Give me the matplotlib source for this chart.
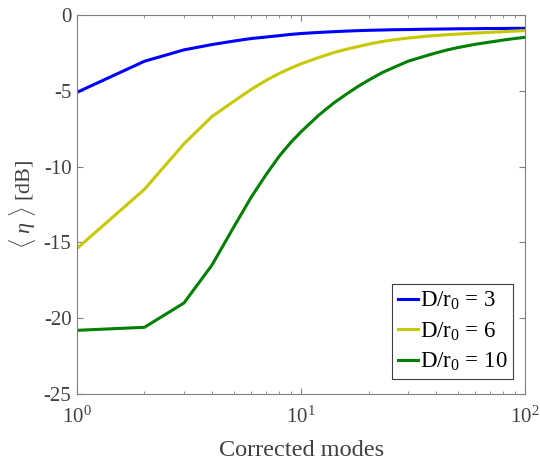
import matplotlib
matplotlib.use("Agg")
import matplotlib.pyplot as plt

# Data
modes = [1, 2, 3, 4, 5, 6, 7, 8, 9, 10, 12, 14, 16, 18, 20, 23, 26, 30,
         35, 40, 45, 50, 60, 70, 80, 90, 100]
eta_d3 = [-5.1, -3.05, -2.3, -1.95, -1.72, -1.55, -1.45, -1.36, -1.28, -1.22,
          -1.15, -1.1, -1.06, -1.03, -1.01, -0.99, -0.97, -0.96, -0.94, -0.93,
          -0.92, -0.91, -0.9, -0.89, -0.89, -0.88, -0.88]
eta_d6 = [-15.4, -11.5, -8.5, -6.7, -5.7, -4.9, -4.3, -3.85, -3.5, -3.22,
          -2.8, -2.48, -2.25, -2.08, -1.92, -1.75, -1.63, -1.52, -1.42, -1.35,
          -1.3, -1.26, -1.19, -1.14, -1.1, -1.06, -1.03]
eta_d10 = [-20.8, -20.6, -19.0, -16.5, -14.0, -12.0, -10.5, -9.3, -8.4, -7.7,
           -6.6, -5.8, -5.2, -4.7, -4.3, -3.8, -3.45, -3.05, -2.75, -2.5,
           -2.3, -2.15, -1.93, -1.78, -1.65, -1.55, -1.47]
labels = ["D/r$_0$ = 3", "D/r$_0$ = 6", "D/r$_0$ = 10"]
colors = ["#0000ff", "#c8c800", "#008000"]

plt.rcParams["font.family"] = ["Liberation Serif", "DejaVu Serif"]
plt.rcParams["mathtext.fontset"] = "custom"
plt.rcParams["mathtext.rm"] = "Liberation Serif"
plt.rcParams["mathtext.it"] = "Liberation Serif:italic"

text_c = "#404040"
axis_c = "#808080"

fig = plt.figure(figsize=(5.4, 4.66), dpi=100)
ax = fig.add_axes([0.1426, 0.1545, 0.830, 0.8133])

for y, lab, c in zip([eta_d3, eta_d6, eta_d10], labels, colors):
    ax.plot(modes, y, color=c, lw=2.2, label=lab)

ax.set_xscale("log")
ax.set_xlim(1, 100)
ax.set_ylim(-25, 0)
ax.set_yticks([-25, -20, -15, -10, -5, 0])
ax.set_yticklabels(["-25", "-20", "-15", "-10", "-5", "0"])

ax.set_xlabel("Corrected modes", fontsize=17.5, color=text_c, labelpad=9)
ax.set_ylabel(r"$\langle\ \eta\ \rangle$ [dB]", fontsize=16, color=text_c)

for s in ax.spines.values():
    s.set_color(axis_c)
    s.set_linewidth(0.8)
ax.tick_params(which="both", direction="in", top=True, right=True,
               color=axis_c, labelcolor=text_c, labelsize=15)
ax.tick_params(which="major", length=4, pad=4)
ax.tick_params(which="minor", length=2.5)
ax.tick_params(axis="x", which="both", pad=9)

leg = ax.legend(loc="lower right", fontsize=16.5, handlelength=0.85,
                handletextpad=0.1, borderpad=0.25, labelspacing=0.35,
                borderaxespad=0, fancybox=False, framealpha=1,
                bbox_to_anchor=(0.973, 0.04))
leg.get_frame().set_edgecolor("#404040")
leg.get_frame().set_linewidth(0.8)
for t in leg.get_texts():
    t.set_color("#000000")

fig.savefig("out.png", dpi=100)
